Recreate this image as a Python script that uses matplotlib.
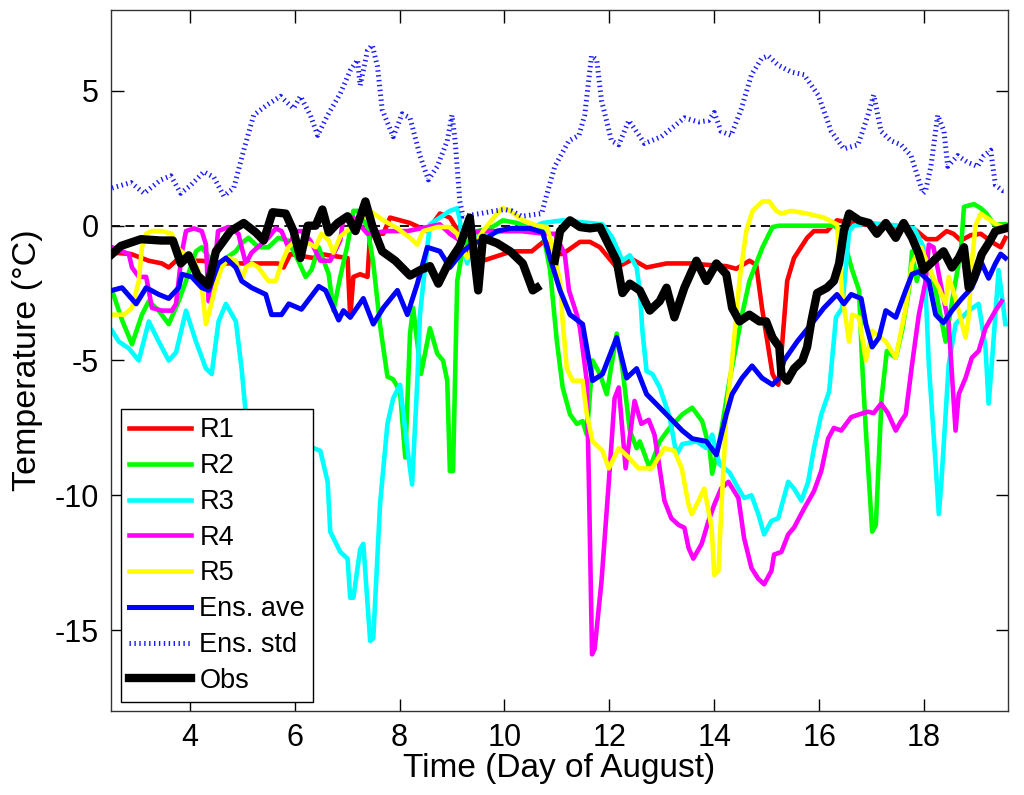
import numpy as np
import matplotlib
matplotlib.use("Agg")
import matplotlib.pyplot as plt

plt.rcParams['font.family'] = ['Liberation Sans', 'DejaVu Sans']
plt.rcParams['axes.unicode_minus'] = False

# ---------------- data (day of August, temperature in deg C) ----------------
r1_day = [2.52, 2.88, 3.22, 3.47, 3.60, 3.74, 4.21, 4.73, 4.97, 5.68, 5.79, 5.92, 6.36, 6.49, 7.01, 7.06, 7.12,
          7.25, 7.39, 7.44, 7.69, 7.82, 8.01, 8.20, 8.53, 8.77, 8.96, 9.15, 9.29, 9.59, 10.14, 10.52, 10.77,
          10.96, 11.11, 11.44, 11.63, 11.82, 12.14, 12.44, 12.71, 13.09, 13.53, 13.85, 14.23, 14.42, 14.67,
          14.80, 14.91, 15.11, 15.22, 15.28, 15.39, 15.52, 15.77, 15.90, 16.15, 16.34, 16.76, 17.33, 17.80,
          18.05, 18.24, 18.43, 18.56, 18.70, 18.89, 19.08, 19.33, 19.46, 19.55]
r1_val = [-1.0, -1.05, -1.3, -1.4, -1.55, -1.3, -1.3, -1.4, -1.4, -1.4, -1.55, -1.05, -1.2, -1.05, -1.2, -3.4, -1.9,
          -1.8, -1.9, -0.3, -0.3, 0.3, 0.2, 0.1, -0.2, 0.45, 0.3, -0.3, -1.05, -1.3, -0.95, -0.95, -0.55,
          -1.05, -1.05, -0.6, -0.6, -0.8, -1.55, -1.25, -1.55, -1.4, -1.4, -1.45, -1.5, -1.6, -1.3,
          -1.45, -3.05, -5.5, -5.9, -4.75, -2.05, -1.2, -0.45, -0.2, -0.2, 0.2, 0.05, 0.0, -0.1,
          -0.5, -0.5, -0.2, -0.3, -0.55, -0.35, -0.3, -0.65, -0.8, -0.45]

r2_day = [2.52, 2.71, 2.90, 3.09, 3.22, 3.41, 3.60, 3.79, 3.93, 4.12, 4.23, 4.42, 4.55, 4.69, 4.88, 4.99, 5.12,
          5.31, 5.50, 5.69, 5.88, 6.07, 6.21, 6.32, 6.46, 6.65, 6.74, 6.87, 7.01, 7.12, 7.20, 7.31, 7.39,
          7.50, 7.63, 7.77, 7.88, 8.01, 8.11, 8.20, 8.26, 8.41, 8.58, 8.72, 8.83, 8.91, 8.96, 9.02, 9.10,
          9.21, 9.48, 9.73, 9.97, 10.24, 10.49, 10.73, 10.87, 11.00, 11.11, 11.25, 11.38, 11.49, 11.57,
          11.68, 11.82, 11.95, 12.14, 12.25, 12.39, 12.52, 12.58, 12.77, 12.96, 13.15, 13.39, 13.58, 13.77,
          13.91, 13.96, 14.10, 14.29, 14.53, 14.67, 14.92, 15.11, 15.24, 16.28, 16.42, 16.63, 16.76, 16.82,
          16.89, 17.01, 17.08, 17.19, 17.29, 17.46, 17.58, 17.71, 17.77, 17.86, 17.99, 18.18, 18.41, 18.56,
          18.70, 18.76, 18.95, 19.08, 19.19, 19.33, 19.55]
r2_val = [-2.4, -3.5, -4.4, -3.3, -2.8, -3.15, -3.65, -2.8, -2.05, -0.95, -0.8, -1.3, -1.65, -1.2, -0.95, -0.65, -0.45,
          -0.8, -0.8, -0.45, -0.55, -1.3, -1.9, -1.65, -0.8, -1.8, -3.15, -1.9, -0.7, 0.55, 0.55, 0.2, -0.05,
          -1.4, -3.7, -5.6, -5.7, -6.15, -8.6, -4.0, -3.05, -5.5, -3.8, -4.75, -5.0, -5.75, -9.1, -9.1, -2.05,
          -0.8, -0.2, -0.1, 0.2, 0.1, -0.1, -0.2, -1.65, -4.3, -6.0, -7.0, -7.35, -7.25, -7.75,
          -5.0, -5.5, -6.25, -4.0, -5.3, -7.6, -8.25, -8.0, -9.0, -8.0, -7.5, -7.0, -6.75, -7.25,
          -8.25, -9.2, -8.0, -5.75, -3.3, -2.05, -0.8, -0.05, 0.0, 0.0, -0.2, -1.65, -2.4, -5.15,
          -7.6, -11.35, -11.1, -6.4, -4.65, -4.9, -3.9, -2.4, -0.95, -2.05, -1.0, -2.0, -4.3, -2.5,
          -0.95, 0.7, 0.8, 0.65, 0.45, 0.05, 0.05]

r3_day = [2.52, 2.65, 2.84, 3.03, 3.22, 3.41, 3.60, 3.74, 3.93, 4.12, 4.31, 4.42, 4.55, 4.69, 4.88, 4.99, 5.07,
          5.26, 5.73, 6.11, 6.36, 6.49, 6.63, 6.68, 6.87, 7.01, 7.06, 7.12, 7.25, 7.31, 7.44, 7.50, 7.63,
          7.77, 7.88, 8.01, 8.15, 8.24, 8.34, 8.39, 8.45, 8.53, 8.58, 8.77, 8.96, 9.10, 9.15, 9.21, 9.29,
          9.34, 9.53, 9.72, 9.97, 10.24, 10.49, 10.73, 11.11, 11.87, 12.06, 12.25, 12.39, 12.52, 12.58,
          12.63, 12.71, 12.82, 12.96, 13.15, 13.28, 13.39, 13.66, 13.85, 13.96, 14.10, 14.29, 14.46, 14.57,
          14.71, 14.84, 14.95, 15.09, 15.22, 15.41, 15.52, 15.66, 15.79, 15.90, 16.04, 16.19, 16.32, 16.44,
          16.57, 16.66, 16.95, 17.52, 17.81, 17.99, 18.03, 18.09, 18.22, 18.28, 18.33, 18.47, 18.60, 18.85,
          19.04, 19.17, 19.23, 19.29, 19.42, 19.55]
r3_val = [-3.9, -4.3, -4.55, -5.0, -3.55, -4.3, -5.0, -4.7, -3.15, -4.3, -5.3, -5.5, -3.55, -2.9, -3.55, -5.3, -7.0,
          -8.0, -8.2, -8.2, -8.25, -8.35, -9.5, -11.35, -12.1, -12.35, -13.8, -13.8, -12.0, -11.8, -15.4, -15.3, -10.3,
          -7.35, -6.4, -5.9, -8.25, -9.6, -5.75, -3.3, -2.2, -0.8, 0.05, 0.3, 0.55, 0.65, 0.2, -0.8, -1.4,
          -1.05, -0.3, -0.3, -0.2, -0.2, -0.1, 0.1, 0.2, 0.05, -0.45, -1.3, -1.1, -1.55, -2.4,
          -3.9, -5.4, -5.5, -6.0, -7.1, -8.5, -8.1, -8.0, -8.25, -7.75, -8.85, -9.15, -9.75, -10.1,
          -10.0, -10.7, -11.45, -10.95, -10.85, -9.5, -9.75, -10.2, -9.5, -8.25, -7.0, -6.15, -3.4, -3.05,
          -0.2, 0.0, 0.1, 0.0, -0.1, -0.8, -2.4, -5.15, -8.85, -10.7, -9.5, -5.15, -3.65, -3.15,
          -2.9, -4.5, -6.6, -5.15, -1.65, -3.65]

r4_day = [2.52, 2.84, 2.90, 3.03, 3.17, 3.22, 3.28, 3.47, 3.66, 3.74, 3.85, 3.93, 4.08, 4.23, 4.31, 4.36, 4.42,
          4.54, 4.74, 4.93, 4.99, 5.07, 5.18, 5.50, 5.64, 5.75, 5.88, 6.02, 6.13, 6.30, 6.49, 6.68, 6.87,
          6.93, 7.12, 7.39, 7.77, 8.15, 8.53, 8.77, 8.96, 9.15, 9.34, 9.53, 9.86, 10.30, 10.77, 10.96, 11.15,
          11.23, 11.38, 11.44, 11.57, 11.61, 11.67, 11.72, 11.85, 11.99, 12.10, 12.18, 12.31, 12.48, 12.61,
          12.75, 12.86, 12.94, 13.05, 13.18, 13.32, 13.43, 13.51, 13.60, 13.76, 13.89, 14.00, 14.13, 14.27,
          14.46, 14.57, 14.71, 14.84, 14.95, 15.09, 15.14, 15.28, 15.41, 15.52, 15.71, 15.90, 16.04, 16.17,
          16.28, 16.42, 16.61, 16.76, 16.93, 17.04, 17.18, 17.31, 17.46, 17.56, 17.65, 17.77, 17.90, 18.03,
          18.09, 18.18, 18.34, 18.47, 18.56, 18.60, 18.66, 18.79, 18.91, 19.04, 19.17, 19.36, 19.48]
r4_val = [-0.8, -1.05, -1.55, -1.9, -1.9, -2.4, -3.05, -3.15, -3.15, -2.9, -1.0, -0.2, -0.1, -0.2, -0.7, -2.8, -2.8,
          -0.2, -0.05, -0.3, -0.8, -1.4, -1.0, -0.45, -0.1, -0.2, -0.8, -0.2, -0.2, -0.55, -1.3, -1.3, -0.55,
          0.3, 0.3, -0.3, -0.2, -0.2, -0.05, 0.05, -0.3, -0.55, -0.3, -0.2, -0.2, -0.2, -0.3, -0.3, -1.05,
          -2.4, -3.3, -3.8, -5.75, -9.5, -15.9, -15.7, -13.2, -9.5, -6.4, -6.0, -9.0, -6.5, -7.35,
          -7.2, -7.75, -8.75, -10.2, -10.85, -11.1, -11.2, -11.95, -12.35, -11.8, -10.95, -10.35, -9.75, -9.5,
          -10.1, -11.6, -12.7, -13.1, -13.3, -12.8, -12.2, -12.1, -11.45, -11.2, -10.5, -9.85, -9.1, -7.9,
          -7.5, -7.6, -7.1, -7.0, -6.9, -6.95, -6.6, -6.95, -7.6, -7.25, -7.0, -5.15, -3.3, -2.05,
          -0.7, -0.8, -2.4, -3.65, -6.4, -7.6, -6.25, -5.65, -4.9, -4.65, -3.8, -3.15, -2.8]

r5_day = [2.52, 2.75, 2.90, 3.03, 3.09, 3.17, 3.28, 3.47, 3.66, 3.74, 4.08, 4.21, 4.31, 4.36, 4.50, 4.61, 4.74,
          4.88, 4.99, 5.07, 5.18, 5.31, 5.50, 5.64, 5.75, 5.88, 6.02, 6.13, 6.27, 6.40, 6.51, 6.65, 6.74,
          6.87, 7.06, 7.44, 7.69, 7.96, 8.20, 8.34, 8.45, 8.72, 8.96, 9.10, 9.29, 9.59, 9.86, 9.97, 10.11,
          10.35, 10.62, 10.81, 10.87, 11.06, 11.11, 11.19, 11.30, 11.49, 11.57, 11.68, 11.87, 11.99, 12.18,
          12.37, 12.56, 12.81, 13.05, 13.24, 13.38, 13.51, 13.57, 13.70, 13.81, 13.95, 14.00, 14.08, 14.13,
          14.23, 14.34, 14.48, 14.61, 14.73, 14.92, 15.05, 15.18, 15.28, 15.47, 15.77, 16.09, 16.34, 16.44,
          16.57, 16.63, 16.76, 16.89, 17.01, 17.27, 17.46, 17.65, 17.77, 17.94, 18.18, 18.28, 18.41, 18.47,
          18.60, 18.79, 18.85, 18.91, 18.98, 19.08, 19.19, 19.38, 19.55]
r5_val = [-3.3, -3.3, -3.05, -2.05, -0.8, -0.3, -0.2, -0.2, -0.3, -0.8, -1.3, -1.9, -3.65, -3.3, -2.2, -1.55, -1.2,
          -1.3, -2.05, -1.55, -1.4, -1.55, -2.05, -2.05, -1.4, -0.8, -0.55, -0.8, -0.65, -0.8, -0.3, -0.55, -1.0,
          -0.4, -0.1, 0.55, 0.2, -0.1, -0.45, -0.7, -0.2, -0.05, -0.05, -0.3, -1.2, -0.2, 0.45, 0.65, 0.55,
          0.2, 0.0, -0.05, -0.45, -2.05, -3.55, -5.3, -5.75, -5.75, -7.0, -8.0, -8.35, -9.0, -8.25,
          -8.6, -9.0, -9.0, -8.25, -8.35, -9.0, -10.35, -10.7, -10.2, -9.75, -11.2, -12.95, -12.8, -10.7,
          -7.0, -5.0, -2.05, -0.2, 0.55, 0.9, 0.9, 0.55, 0.45, 0.55, 0.45, 0.3, 0.05, -2.55,
          -4.3, -3.3, -3.4, -5.0, -3.9, -4.3, -4.9, -3.05, -1.4, -0.8, -1.95, -2.3, -2.9, -1.9,
          -2.7, -4.15, -3.4, -1.4, 0.0, 0.45, 0.3, 0.05, -0.1]

ave_day = [2.52, 2.71, 2.98, 3.17, 3.41, 3.60, 3.79, 3.85, 4.04, 4.23, 4.36, 4.55, 4.69, 4.88, 4.99, 5.18, 5.45,
           5.56, 5.75, 5.89, 6.13, 6.46, 6.59, 6.84, 6.93, 7.06, 7.31, 7.50, 7.69, 7.96, 8.15, 8.34, 8.53,
           8.77, 8.96, 9.21, 9.40, 9.59, 9.86, 10.11, 10.49, 10.73, 10.87, 11.06, 11.25, 11.49, 11.68, 11.87,
           12.14, 12.33, 12.52, 12.71, 13.09, 13.39, 13.58, 13.85, 14.04, 14.23, 14.34, 14.53, 14.72, 14.91,
           15.11, 15.24, 15.33, 15.58, 15.85, 16.09, 16.34, 16.47, 16.61, 16.80, 16.89, 17.01, 17.14, 17.27,
           17.46, 17.65, 17.77, 17.90, 18.09, 18.22, 18.37, 18.53, 18.72, 18.91, 19.10, 19.23, 19.36, 19.46, 19.55]
ave_val = [-2.4, -2.3, -2.9, -2.3, -2.55, -2.7, -2.3, -1.8, -1.9, -2.3, -2.4, -1.4, -1.2, -1.55, -2.05, -2.3, -2.55,
           -3.3, -3.3, -2.9, -3.1, -2.25, -2.4, -3.5, -3.15, -3.4, -2.7, -3.65, -3.05, -2.4, -3.3, -2.15, -0.8,
           -0.95, -1.55, -0.95, -0.65, -0.55, -0.2, -0.1, -0.1, -0.25, -1.2, -2.4, -3.3, -3.65, -5.75, -5.5,
           -4.15, -5.65, -5.3, -6.25, -7.0, -7.6, -7.9, -8.0, -8.5, -7.0, -6.25, -5.65, -5.2, -5.65,
           -5.9, -5.65, -5.0, -4.3, -3.65, -3.05, -2.55, -2.9, -2.55, -2.7, -3.65, -4.5, -4.15, -3.15,
           -3.4, -2.4, -1.8, -1.7, -2.05, -3.3, -3.6, -3.15, -2.7, -2.3, -1.4, -1.95, -1.4, -1.05, -1.2]

std_day = [2.52, 2.88, 3.13, 3.45, 3.64, 3.83, 4.02, 4.27, 4.46, 4.65, 4.84, 5.03, 5.22, 5.49, 5.73, 5.98, 6.11,
           6.30, 6.44, 6.63, 6.87, 7.06, 7.20, 7.25, 7.39, 7.48, 7.58, 7.67, 7.88, 8.05, 8.20, 8.39, 8.55,
           8.72, 8.91, 9.00, 9.06, 9.15, 9.21, 9.54, 9.82, 10.00, 10.14, 10.33, 10.71, 10.77, 10.96, 11.23,
           11.42, 11.53, 11.66, 11.76, 11.85, 12.04, 12.18, 12.37, 12.48, 12.67, 12.99, 13.43, 13.70, 13.89,
           14.00, 14.13, 14.32, 14.51, 14.71, 14.90, 15.03, 15.22, 15.47, 15.71, 15.98, 16.23, 16.47, 16.74,
           16.93, 17.04, 17.18, 17.37, 17.56, 17.75, 17.98, 18.03, 18.13, 18.26, 18.38, 18.45, 18.64, 18.83,
           19.02, 19.14, 19.27, 19.36, 19.50, 19.55]
std_val = [1.4, 1.6, 1.2, 1.7, 1.85, 1.2, 1.5, 2.0, 1.8, 1.1, 1.4, 2.8, 4.1, 4.5, 4.8, 4.35, 4.8,
           4.1, 3.35, 4.1, 4.9, 5.75, 6.15, 5.2, 6.5, 6.7, 5.9, 4.3, 3.3, 4.15, 4.0, 2.6, 1.7,
           2.2, 3.15, 4.1, 3.15, 0.9, 0.35, 0.45, 0.55, 0.6, 0.55, 0.35, 0.45, 0.9, 2.2, 3.15,
           3.35, 4.1, 6.3, 6.15, 4.65, 3.15, 3.0, 3.9, 3.6, 3.05, 3.3, 4.0, 3.85, 3.9,
           4.2, 3.5, 3.35, 4.3, 5.6, 6.2, 6.3, 5.95, 5.7, 5.6, 4.85, 3.5, 2.85, 3.0,
           4.1, 4.85, 3.5, 3.15, 3.0, 2.6, 1.2, 1.3, 2.2, 4.1, 3.5, 2.2, 2.6, 2.35,
           2.2, 2.6, 2.8, 1.5, 1.3, 1.3]

obs_day = [2.52, 2.69, 3.07, 3.45, 3.68, 3.83, 3.98, 4.15, 4.35, 4.50, 4.78, 5.03, 5.26, 5.41, 5.58, 5.83, 5.98,
           6.11, 6.25, 6.40, 6.53, 6.65, 6.82, 7.01, 7.16, 7.35, 7.48, 7.67, 7.92, 8.20, 8.39, 8.58, 8.74,
           8.93, 9.15, 9.34, 9.50, 9.59, 9.86, 10.11, 10.35, 10.54, 10.62, 10.80,
           10.96, 11.06, 11.25, 11.44, 11.63, 11.82, 12.01, 12.14, 12.25, 12.39, 12.58, 12.77, 12.96, 13.09,
           13.24, 13.43, 13.66, 13.85, 14.04, 14.23, 14.34, 14.48, 14.67, 14.86, 14.99, 15.11, 15.24, 15.28,
           15.39, 15.52, 15.68, 15.77, 15.85, 15.96, 16.15, 16.28, 16.38, 16.47, 16.57, 16.76, 16.95, 17.10,
           17.27, 17.46, 17.61, 17.77, 17.90, 17.99, 18.18, 18.37, 18.53, 18.66, 18.76, 18.85, 18.95, 19.10,
           19.23, 19.36, 19.55]
obs_val = [-1.05, -0.75, -0.5, -0.55, -0.55, -1.4, -1.1, -1.85, -2.2, -0.95, -0.2, 0.1, -0.25, -0.55, 0.5, 0.45, -0.2,
           -1.2, 0.0, 0.0, 0.6, -0.25, 0.1, 0.35, -0.2, 0.9, 0.0, -0.95, -1.3, -1.85, -1.65, -1.5, -2.15,
           -1.4, -0.75, 0.3, -2.4, -0.45, -0.65, -0.95, -1.4, -2.4, -2.3, np.nan,
           -1.3, -0.2, 0.2, -0.05, -0.1, -0.05, -0.8, -1.3, -2.5, -2.15, -2.4, -3.15, -2.8, -2.3,
           -3.4, -2.3, -1.3, -2.05, -1.4, -1.8, -3.05, -3.55, -3.3, -3.55, -3.55, -4.15, -4.5, -5.5,
           -5.75, -5.3, -5.0, -4.5, -3.55, -2.5, -2.3, -2.05, -1.4, -0.2, 0.45, 0.2, 0.1, -0.3,
           0.1, -0.45, 0.1, -0.45, -1.05, -1.65, -1.3, -0.95, -1.55, -1.2, -0.8, -2.3, -1.95, -1.05,
           -0.65, -0.2, -0.1]

x_ticks = [4, 6, 8, 10, 12, 14, 16, 18]
y_ticks = [-15, -10, -5, 0, 5]
labels = ['R1', 'R2', 'R3', 'R4', 'R5', 'Ens. ave', 'Ens. std', 'Obs']

# ---------------- figure ----------------
fig = plt.figure(figsize=(10.24, 7.95), dpi=100)
ax = fig.add_axes([0.1084, 0.1057, 0.8760, 0.8817])

ax.axhline(0, color='black', lw=1.3, ls=(0, (5, 3)), zorder=1)

lw = 3.3
ax.plot(r1_day, r1_val, color='#ff0000', lw=lw, label=labels[0], zorder=2)
ax.plot(r2_day, r2_val, color='#00ff00', lw=lw, label=labels[1], zorder=2)
ax.plot(r3_day, r3_val, color='#00ffff', lw=lw, label=labels[2], zorder=2)
ax.plot(r4_day, r4_val, color='#ff00ff', lw=lw, label=labels[3], zorder=2)
ax.plot(r5_day, r5_val, color='#ffff00', lw=lw, label=labels[4], zorder=2)
ax.plot(ave_day, ave_val, color='#0000ff', lw=3.6, label=labels[5], zorder=3)
ax.plot(std_day, std_val, color='#1a1aff', lw=3.6, ls=(0, (0.28, 0.7)),
        dash_capstyle='butt', label=labels[6], zorder=3)
ax.plot(obs_day, obs_val, color='black', lw=6.0, label=labels[7], zorder=4)

ax.set_xlim(2.5, 19.6)
ax.set_ylim(-18, 8)
ax.set_xticks(x_ticks)
ax.set_yticks(y_ticks)
ax.tick_params(direction='in', length=9, width=1, top=True, right=True,
               labelsize=22, pad=9)
for s in ax.spines.values():
    s.set_linewidth(1.0)
    s.set_color('#333333')

ax.set_xlabel('Time (Day of August)', fontsize=24, labelpad=0)
ax.set_ylabel('Temperature (°C)', fontsize=24.5, labelpad=8)

leg = ax.legend(loc='lower left', bbox_to_anchor=(0.011, 0.013), borderaxespad=0,
                fontsize=19.5, frameon=True, fancybox=False, framealpha=1,
                edgecolor='black', handlelength=2.3, handletextpad=0.3,
                labelspacing=0.36, borderpad=0.3)
leg.get_frame().set_linewidth(1.0)
leg.set_zorder(10)

fig.savefig('out.png', dpi=100)
